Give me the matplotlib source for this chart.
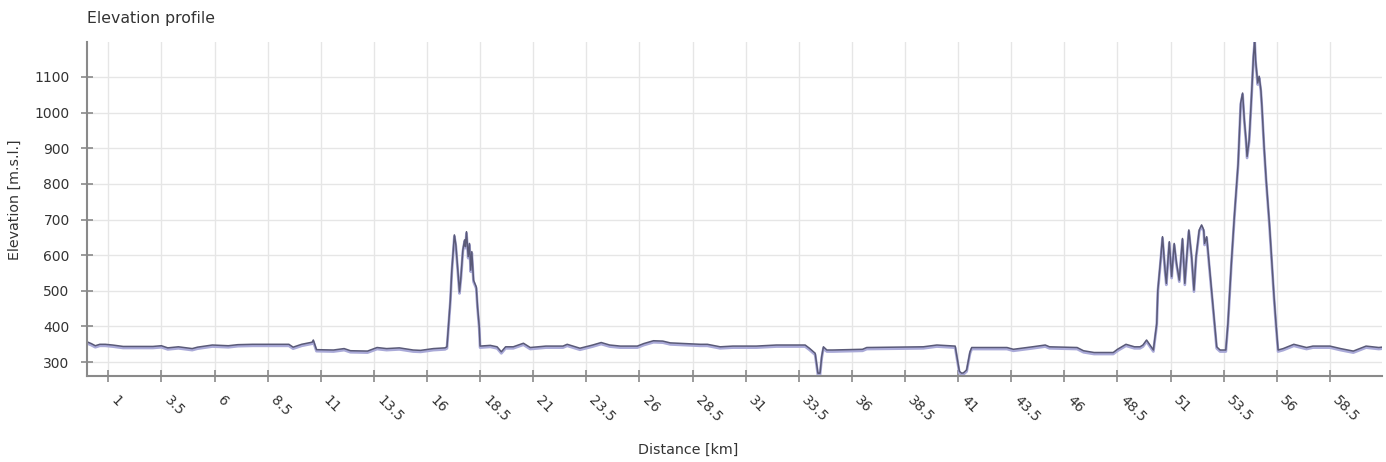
import matplotlib
matplotlib.use("Agg")
import matplotlib.pyplot as plt
import matplotlib.transforms as mtransforms

# distance [km] and elevation [m]
km = [0.0, 0.2, 0.39, 0.6, 0.86, 1.2, 1.7, 3.1, 3.5, 3.8, 4.3, 4.95, 5.2, 5.9,
      6.65, 7.1, 7.8, 9.5, 9.7, 10.1, 10.6, 10.65, 10.8, 11.6, 12.1, 12.4, 13.2,
      13.65, 14.1, 14.7, 15.35, 15.7, 16.3, 16.85, 16.94, 17.01, 17.1, 17.17,
      17.25, 17.29, 17.36, 17.44, 17.53, 17.6, 17.69, 17.77, 17.81, 17.86, 17.94,
      18.0, 18.06, 18.11, 18.19, 18.32, 18.38, 18.46, 18.5, 18.98, 19.3, 19.5,
      19.7, 20.06, 20.54, 20.86, 21.6, 22.4, 22.6, 23.2, 23.8, 24.2, 24.6, 25.1,
      25.9, 26.2, 26.66, 27.1, 27.45, 28.2, 28.86, 29.2, 29.8, 30.4, 31.5, 32.45,
      33.8, 34.0, 34.27, 34.4, 34.5, 34.58, 34.66, 34.82, 35.1, 36.5, 36.7, 39.36,
      40.0, 40.86, 40.94, 41.06, 41.17, 41.25, 41.4, 41.56, 41.64, 43.3, 43.6,
      44.5, 45.1, 45.3, 46.6, 46.9, 47.4, 48.3, 48.5, 48.9, 49.3, 49.56, 49.7,
      49.87, 50.19, 50.35, 50.4, 50.53, 50.62, 50.74, 50.8, 50.94, 51.05, 51.17,
      51.28, 51.41, 51.56, 51.67, 51.75, 51.86, 51.99, 52.1, 52.2, 52.35, 52.46,
      52.56, 52.6, 52.7, 52.8, 52.9, 53.0, 53.17, 53.33, 53.6, 53.7, 53.86, 54.0,
      54.18, 54.3, 54.39, 54.47, 54.55, 54.6, 54.7, 54.8, 54.9, 54.96, 55.0, 55.1,
      55.17, 55.25, 55.3, 55.4, 55.5, 55.65, 55.77, 55.87, 55.96, 56.06, 56.3,
      56.8, 57.4, 57.7, 58.5, 59.0, 59.6, 60.2, 60.8, 60.95]
elev = [357, 352, 346, 350, 350, 348, 344, 344, 346, 340, 343, 338, 342, 348,
        346, 349, 350, 350, 342, 350, 356, 362, 335, 334, 338, 332, 331,
        341, 338, 340, 334, 333, 338, 340, 343, 399, 474, 558,
        624, 657, 629, 568, 497, 540, 615, 643, 624, 666, 596,
        633, 558, 610, 530, 511, 455, 399, 345, 347, 343, 329,
        343, 343, 353, 341, 345, 345, 350, 339, 348, 355, 348, 345,
        345, 352, 360, 359, 354, 352, 350, 350, 343, 345, 345, 348,
        348, 339, 325, 269, 269, 316, 343, 334, 334, 336, 341, 343,
        348, 345, 316, 274, 269, 270, 278, 329, 341, 341, 336,
        343, 348, 343, 341, 332, 327, 327, 336, 350, 343, 343, 348,
        362, 334, 409, 502, 587, 652, 558, 521, 638, 540, 633,
        577, 530, 647, 521, 587, 671, 596, 502, 596, 671, 685,
        671, 633, 652, 587, 521, 455, 343, 334, 334, 409, 577, 708,
        858, 1027, 1055, 980, 924, 877, 924, 1036, 1158, 1204, 1148, 1083,
        1102, 1064, 1017, 905, 811, 690, 577, 483, 409, 334, 338,
        350, 341, 345, 345, 338, 331, 345, 341, 342]

x_ticks = [1, 3.5, 6, 8.5, 11, 13.5, 16, 18.5, 21, 23.5, 26, 28.5, 31, 33.5,
           36, 38.5, 41, 43.5, 46, 48.5, 51, 53.5, 56, 58.5]
y_ticks = [300, 400, 500, 600, 700, 800, 900, 1000, 1100]

INK, AXIS, GRID = "#333333", "#8a8a8a", "#e6e6e6"
LINE, BAND = "#5a5a78", "#aaaad8"

fig = plt.figure(figsize=(13.86, 4.62), dpi=100)
ax = fig.add_axes([0.0628, 0.1861, 0.9343, 0.7229])

# lighter band sits just under the profile line
band_tr = mtransforms.offset_copy(ax.transData, fig=fig, x=0, y=-1.5, units="dots")
ax.plot(km, elev, color=BAND, lw=2.0, transform=band_tr)
ax.plot(km, elev, color=LINE, lw=1.1)

ax.set_xlim(0, 60.95)
ax.set_ylim(261, 1198)
ax.set_xticks(x_ticks)
ax.set_xticklabels([f"{t:g}" for t in x_ticks], rotation=-45, ha="left", va="top")
ax.set_yticks(y_ticks)

ax.grid(color=GRID, lw=1)
ax.set_axisbelow(True)
for s in ("top", "right"):
    ax.spines[s].set_visible(False)
for s in ("left", "bottom"):
    ax.spines[s].set_color(AXIS)
    ax.spines[s].set_linewidth(1.5)
ax.tick_params(axis="both", direction="inout", length=9, width=1.2, color=AXIS,
               labelsize=10, labelcolor=INK)
ax.tick_params(axis="x", pad=8)
ax.tick_params(axis="y", pad=8)

ax.set_xlabel("Distance [km]", fontsize=10.3, color=INK)
ax.xaxis.set_label_coords(0.464, -0.2)
ax.set_ylabel("Elevation [m.s.l.]", fontsize=10.3, color=INK)
ax.yaxis.set_label_coords(-0.05, 0.527)
ax.set_title("Elevation profile", loc="left", fontsize=11.3, color=INK, pad=14)

fig.savefig("out.png", dpi=100)
